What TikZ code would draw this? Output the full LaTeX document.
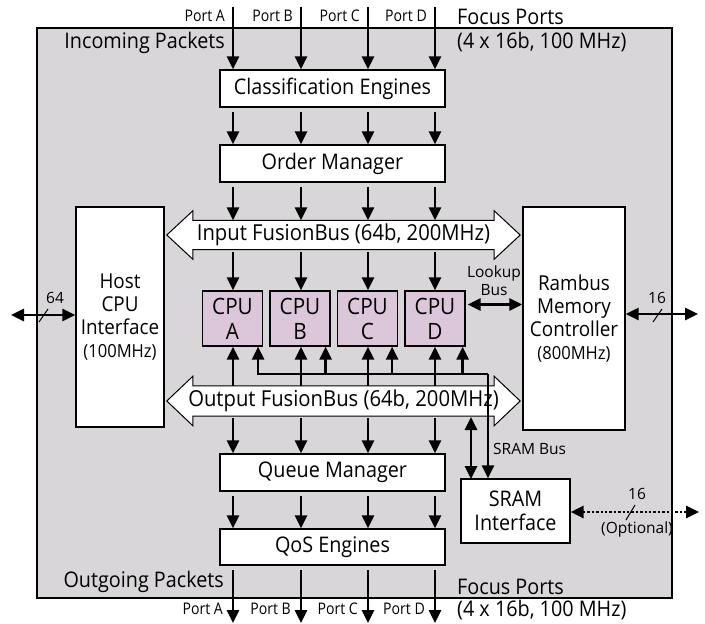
\documentclass[tikz,border=0pt]{standalone}
\usepackage{fontspec}
\setmainfont[FakeStretch=0.92]{Open Sans}
\newfontfamily\portfont[FakeStretch=0.88]{Open Sans}
\newfontfamily\lblfont{Open Sans}
\usetikzlibrary{arrows.meta,calc}
\definecolor{chipgray}{RGB}{216,214,216}
\definecolor{cpufill}{RGB}{220,198,218}
\begin{document}
\begin{tikzpicture}[x=1pt,y=-1pt,
  box/.style={draw, line width=1.2pt, fill=white, inner sep=0pt, align=center, font=\fontsize{21.5}{23}\selectfont},
  cpubox/.style={box, fill=cpufill, minimum width=60pt, minimum height=55pt, font=\fontsize{22.5}{25}\selectfont},
  arr/.style={line width=2.6pt, -{Triangle[width=12pt,length=13pt]}},
  darr/.style={line width=2.6pt, {Triangle[width=12pt,length=13pt]}-{Triangle[width=12pt,length=13pt]}},
  portlbl/.style={font=\portfont\fontsize{16}{18}\selectfont, inner sep=0pt},
  biglbl/.style={font=\fontsize{21.5}{23}\selectfont, inner sep=0pt},
  smalllbl/.style={font=\lblfont\fontsize{15.5}{17}\selectfont, inner sep=0pt},
  busshape/.style={draw, line width=1pt, fill=white},
  slash/.style={line width=1pt}
]
\useasboundingbox (0,0) rectangle (705,624);
% outer chip
\draw[line width=2.6pt, fill=chipgray] (37,28) rectangle (672,598);

% column coordinates
\coordinate (cA) at (233,0);
\coordinate (cB) at (301,0);
\coordinate (cC) at (368,0);
\coordinate (cD) at (435,0);

% boxes
\node[box, minimum width=225pt, minimum height=37pt] (cls) at (332.5,88.5) {Classification Engines};
\node[box, minimum width=225pt, minimum height=37pt] (ord) at (332.5,163.5) {Order Manager};
\node[box, minimum width=225pt, minimum height=37pt] (que) at (332.5,472.5) {Queue Manager};
\node[box, minimum width=225pt, minimum height=36pt] (qos) at (332.5,547) {QoS Engines};
\node[box, minimum width=88pt, minimum height=220pt, font=\fontsize{20.5}{23}\selectfont] (host) at (120,317)
  {Host\\CPU\\Interface\\{\fontsize{18}{20}\selectfont(100MHz)}};
\node[box, minimum width=102pt, minimum height=223pt, font=\fontsize{20.5}{23}\selectfont] (ram) at (574,318.5)
  {Rambus\\Memory\\Controller\\{\fontsize{18}{20}\selectfont(800MHz)}};
\node[box, minimum width=109pt, minimum height=64pt, font=\fontsize{21.5}{24}\selectfont] (sram) at (515.5,511) {SRAM\\Interface};

\node[cpubox] (cpuA) at (232.5,318.5) {CPU\\A};
\node[cpubox] (cpuB) at (300,318.5) {CPU\\B};
\node[cpubox] (cpuC) at (367.5,318.5) {CPU\\C};
\node[cpubox] (cpuD) at (435,318.5) {CPU\\D};

% buses
\node[inner sep=0pt, minimum width=301pt, minimum height=29pt] (ibus) at (343.5,235) {};
\node[inner sep=0pt, minimum width=301pt, minimum height=30pt] (obus) at (343.5,401) {};
\foreach \b in {ibus,obus}{
  \draw[busshape] (\b.north west) -- (\b.north east) -- ($(\b.north east)+(0,-9.5)$)
    -- ($(\b.east)+(26,0)$) -- ($(\b.south east)+(0,9.5)$) -- (\b.south east)
    -- (\b.south west) -- ($(\b.south west)+(0,9.5)$) -- ($(\b.west)+(-26,0)$)
    -- ($(\b.north west)+(0,-9.5)$) -- cycle;
}
\node[font=\fontsize{22}{25}\selectfont, inner sep=0pt] at (ibus.center) {Input FusionBus (64b, 200MHz)};
\node[font=\fontsize{22}{25}\selectfont, inner sep=0pt] at (obus.center) {Output FusionBus (64b, 200MHz)};

% port inputs and outputs
\foreach \c/\p in {cA/A,cB/B,cC/C,cD/D}{
  \coordinate (top\p) at ($(\c)+(0,7)$);
  \coordinate (bot\p) at ($(\c)+(0,623)$);
  \draw[arr] (top\p) -- (\c |- cls.north);
  \draw[arr] ($(\c |- cls.south)+(0,4)$) -- (\c |- ord.north);
  \draw[arr] ($(\c |- ord.south)+(0,4)$) -- (\c |- ibus.north);
  \draw[arr] ($(\c |- ibus.south)+(0,2)$) -- (\c |- cpuA.north);
  \draw[arr] (\c |- obus.north) -- (\c |- cpuA.south);
  \draw[arr] ($(\c |- obus.south)+(0,2)$) -- (\c |- que.north);
  \draw[arr] ($(\c |- que.south)+(0,4)$) -- (\c |- qos.north);
  \draw[arr] ($(\c |- qos.south)+(0,4)$) -- (bot\p);
  \node[portlbl, anchor=east] at ($(top\p)+(-8,9)$) {Port \p};
  \node[portlbl, anchor=east] at ($(bot\p)+(-10,-14)$) {Port \p};
}

% SRAM feedback bus
\coordinate (fbR) at (488,374);
\draw[arr] (fbR) -| ($(cpuA.south east)+(-5,0)$);
\draw[arr] (fbR -| cpuB.south east) ++(-5,0) -- ($(cpuB.south east)+(-5,0)$);
\draw[arr] (fbR -| cpuC.south east) ++(-6,0) -- ($(cpuC.south east)+(-6,0)$);
\draw[arr] (fbR -| cpuD.south east) ++(-3,0) -- ($(cpuD.south east)+(-3,0)$);
\draw[arr] (fbR) -- (fbR |- sram.north);
\draw[darr] (471,417) -- (471,479);
\node[smalllbl, anchor=west] at (493,449) {SRAM Bus};

% lookup bus
\draw[darr] ($(cpuD.east)+(2,-14)$) -- ($(ram.west |- cpuD.east)+(0,-14)$);
\node[smalllbl] at (494,273) {Lookup};
\node[smalllbl] at (494,290) {Bus};

% external host port
\coordinate (hostext) at (11,315);
\draw[darr] (hostext) -- (host.west |- hostext);
\draw[slash] (39,322) -- (48,309);
\node[smalllbl] at (55,298) {64};

% external rambus port
\coordinate (ramext) at (698,314);
\draw[darr] (ram.east |- ramext) -- (ramext);
\draw[slash] (653,322) -- (662,309);
\node[smalllbl] at (657,298) {16};

% optional SRAM port
\coordinate (sramext) at (699,512);
\draw[line width=2.8pt, dash pattern=on 2.4pt off 2pt, {Triangle[width=12pt,length=13pt]}-{Triangle[width=12pt,length=13pt]}] (sram.east |- sramext) -- (sramext);
\draw[slash] (626,520) -- (635,505);
\node[smalllbl] at (637,494) {16};
\node[smalllbl] at (637,529) {(Optional)};

% labels
\node[biglbl, anchor=east] at (225,43) {Incoming Packets};
\node[biglbl, anchor=east] at (224,582) {Outgoing Packets};
\node[biglbl, anchor=west] at (457,17) {Focus Ports};
\node[biglbl, anchor=west] at (457,42) {(4 x 16b, 100 MHz)};
\node[biglbl, anchor=west] at (457,587) {Focus Ports};
\node[biglbl, anchor=west] at (457,610) {(4 x 16b, 100 MHz)};
\end{tikzpicture}
\end{document}
